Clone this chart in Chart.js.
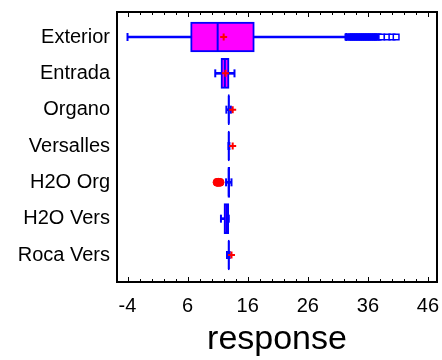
<!DOCTYPE html>
<html>
<head>
<meta charset="utf-8">
<script src="https://cdn.jsdelivr.net/npm/chart.js@4.4.1/dist/chart.umd.min.js"></script>
<style>
html,body{margin:0;padding:0;background:#fff;}
#c{display:block;}
</style>
</head>
<body>
<canvas id="c" width="442" height="360"></canvas>
<script>
const categories = ['Exterior','Entrada','Organo','Versalles','H2O Org','H2O Vers','Roca Vers'];
const mins    = [-4.0, 10.6, 12.45, 12.8, 12.4, 11.55, 12.55];
const q1      = [6.5, 11.55, 12.75, 12.75, 12.7, 12.05, 12.75];
const medians = [11.0, 12.2, 12.85, 12.85, 12.85, 12.5, 12.85];
const q3      = [17.1, 12.9, 12.95, 12.95, 13.0, 12.85, 12.95];
const maxs    = [32.4, 13.8, 13.2, 12.95, 13.3, 12.85, 13.0];
const means   = [12.0, 12.3, 13.5, 13.5, null, null, 13.3];
const exteriorOutliers = [32.7, 33.0, 33.3, 33.6, 33.9, 34.2, 34.5, 34.8, 35.1, 35.4, 35.7, 36.0, 36.3, 36.6, 36.9, 37.2, 37.5, 37.7, 38.3, 39.2, 40.0, 40.7];
const h2oOrgOutliers = [10.9, 11.1, 11.4];
const tickLabels = [-4, 6, 16, 26, 36, 46];
const minorStep = 2;

const FONT = "'Liberation Sans', Arial, sans-serif";
const BLUE = '#0000ff', MAGENTA = '#ff00ff', RED = '#ff0000';

const pts = (arr) => arr.map((v, i) => ({x: v, y: i})).filter(p => p.x !== null);

const framePlugin = {
  id: 'frame',
  afterDraw(chart) {
    const {ctx, chartArea: a} = chart;
    const xs = chart.scales.x;
    ctx.save();
    ctx.strokeStyle = '#000';
    ctx.lineWidth = 1;
    for (let v = tickLabels[0]; v <= tickLabels[tickLabels.length - 1]; v += minorStep) {
      const px = Math.round(xs.getPixelForValue(v)) + 0.5;
      const major = tickLabels.includes(v);
      const len = major ? 5 : 3;
      ctx.beginPath();
      ctx.moveTo(px, a.bottom); ctx.lineTo(px, a.bottom - len);
      ctx.moveTo(px, a.top); ctx.lineTo(px, a.top + len);
      ctx.stroke();
    }
    ctx.lineWidth = 2;
    ctx.strokeRect(a.left, a.top, a.right - a.left, a.bottom - a.top);
    ctx.restore();
  }
};

const noPad = (s) => { s.paddingLeft = 0; s.paddingRight = 0; s.paddingTop = 0; s.paddingBottom = 0; };

new Chart(document.getElementById('c'), {
  type: 'bar',
  data: {
    datasets: [
      { type: 'scatter', data: pts(means), pointStyle: 'cross', pointRadius: 3.5, pointBorderWidth: 2,
        borderColor: RED, pointBorderColor: RED, pointBackgroundColor: RED },
      { type: 'scatter', data: h2oOrgOutliers.map(v => ({x: v, y: categories.indexOf('H2O Org')})),
        pointStyle: 'circle', pointRadius: 4, pointBorderWidth: 1,
        borderColor: RED, pointBorderColor: RED, pointBackgroundColor: RED },
      { type: 'scatter', data: exteriorOutliers.map(v => ({x: v, y: categories.indexOf('Exterior')})),
        pointStyle: 'rect', pointRadius: 4, pointBorderWidth: 1.5,
        borderColor: BLUE, pointBorderColor: BLUE,
        pointBackgroundColor: (c) => (c.raw && c.raw.x < 38 ? BLUE : '#fff') },
      { type: 'scatter', data: pts(medians), pointStyle: 'line', pointRotation: 90, pointRadius: 14,
        pointBorderWidth: 2, borderColor: BLUE, pointBorderColor: BLUE },
      { type: 'scatter', data: pts(mins).concat(pts(maxs)), pointStyle: 'line', pointRotation: 90, pointRadius: 4,
        pointBorderWidth: 2, borderColor: BLUE, pointBorderColor: BLUE },
      { type: 'bar', data: categories.map((c, i) => ({y: i, x: [q1[i], q3[i]]})),
        backgroundColor: MAGENTA, borderColor: BLUE, borderWidth: 2, borderSkipped: false,
        barThickness: 30, grouped: false },
      { type: 'bar', data: categories.map((c, i) => ({y: i, x: [mins[i], maxs[i]]})),
        backgroundColor: BLUE, borderWidth: 0, barThickness: 2, grouped: false }
    ]
  },
  options: {
    indexAxis: 'y',
    responsive: false,
    devicePixelRatio: 1,
    animation: false,
    events: [],
    layout: { autoPadding: false, padding: { top: 12, right: 5, left: 0, bottom: 0 } },
    plugins: { legend: { display: false }, tooltip: { enabled: false } },
    scales: {
      x: {
        type: 'linear', position: 'bottom', min: -5.75, max: 47.5, offset: false,
        afterBuildTicks: (s) => { s.ticks = tickLabels.map(v => ({value: v})); },
        afterFit: (s) => { s.height = 78; noPad(s); },
        grid: { display: false, drawTicks: false, offset: false },
        border: { display: false },
        ticks: { color: '#000', font: { family: FONT, size: 20 }, padding: 12, autoSkip: false, maxRotation: 0 },
        title: { display: true, text: 'response', color: '#000', font: { family: FONT, size: 34 }, padding: { top: 0, bottom: 0 } }
      },
      y: {
        type: 'linear', reverse: true, min: -0.688, max: 6.743, offset: false,
        afterBuildTicks: (s) => { s.ticks = categories.map((c, i) => ({value: i})); },
        afterFit: (s) => { s.width = 117; noPad(s); },
        grid: { display: false, drawTicks: false, offset: false },
        border: { display: false },
        ticks: { color: '#000', font: { family: FONT, size: 20 }, padding: 7, autoSkip: false,
                 callback: (v) => categories[v] }
      }
    }
  },
  plugins: [framePlugin]
});
</script>
</body>
</html>
